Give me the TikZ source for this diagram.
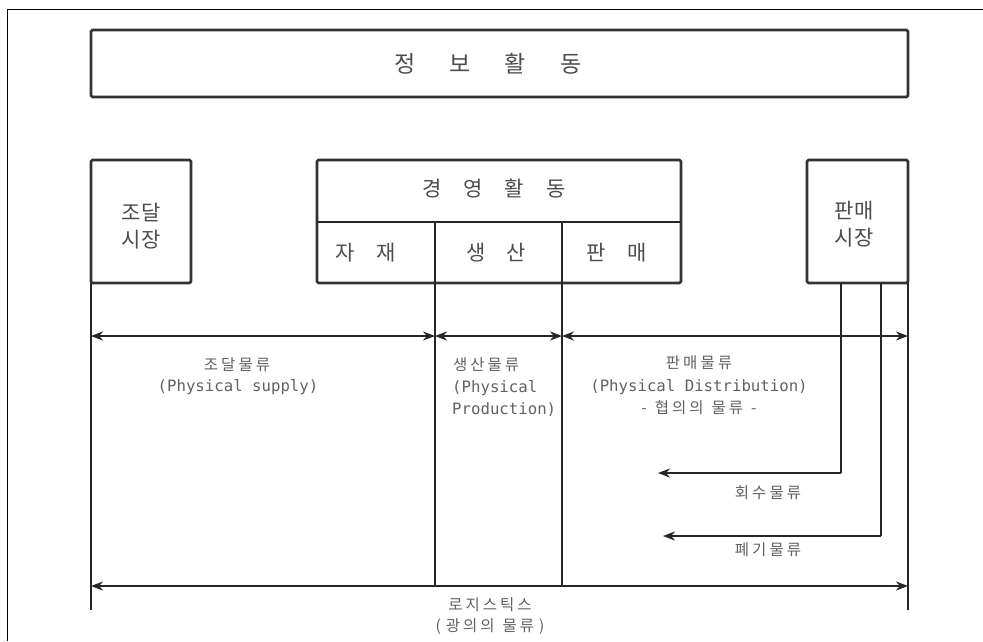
\documentclass[tikz,border=0pt]{standalone}
\usepackage{fontspec}
\newfontfamily\kr{Noto Sans CJK KR}
\newfontfamily\mono{DejaVu Sans Mono}
\usetikzlibrary{arrows.meta}
\newcommand{\kg}{\hspace{3pt}}
\tikzset{
  box/.style={draw=black!80, line width=2.8pt, rounded corners=1.5pt, inner sep=0pt},
  vline/.style={draw=black!85, line width=2.5pt},
  flow/.style={draw=black!85, line width=2.8pt, {Stealth[length=12pt,width=9pt]}-{Stealth[length=12pt,width=9pt]}},
  oneflow/.style={draw=black!85, line width=2.8pt, -{Stealth[length=12pt,width=9pt]}},
  bigk/.style={text=black!70, font=\kr\fontsize{21}{21}\selectfont, inner sep=0pt},
  smallk/.style={text=black!62, font=\kr\fontsize{15.5}{15.5}\selectfont, inner sep=0pt},
  lat/.style={text=black!62, font=\mono\fontsize{15.7}{15.7}\selectfont, inner sep=0pt},
}
\begin{document}
\begin{tikzpicture}[x=1pt,y=-1pt]
\useasboundingbox (0,0) rectangle (983,641);
% page frame
\draw[black, line width=0.9pt] (983,9) -- (7,9) -- (7,641);

% boxes
\node[box, minimum width=817pt, minimum height=67pt] (info) at (499.5,63.5) {};
\node[bigk, font=\kr\fontsize{23}{23}\selectfont] (infot) at (488,64) {정\hspace{34pt}보\hspace{34pt}활\hspace{34pt}동};

\node[box, minimum width=100pt, minimum height=123pt] (jodal) at (141,221.5) {};
\node[bigk, align=center] (jodalt) at (141,226) {조달\\[6pt]시장};

\node[box, minimum width=364pt, minimum height=123pt] (mgmt) at (499,221.5) {};
\node[bigk] (mgmtt) at (494,189) {경\hspace{22pt}영\hspace{22pt}활\hspace{22pt}동};
\node[bigk] (jajae) at (366,253) {자\hspace{22pt}재};
\node[bigk] (saeng) at (496,253) {생\hspace{21pt}산};
\node[bigk] (pan) at (617,253) {판\hspace{22pt}매};

\node[box, minimum width=101pt, minimum height=123pt] (sales) at (857.5,221.5) {};
\node[bigk, align=center] (salest) at (854,224) {판매\\[6pt]시장};

% coordinates
\coordinate (dL) at (317,222);
\coordinate (dR) at (681,222);
\coordinate (v1t) at (435,222);
\coordinate (v2t) at (562,222);
\coordinate (v1b) at (435,586);
\coordinate (v2b) at (562,586);
\coordinate (lt) at (91,283);
\coordinate (lb) at (91,610);
\coordinate (rt) at (908,283);
\coordinate (rb) at (908,610);
\coordinate (r1t) at (841,283);
\coordinate (r1c) at (841,473);
\coordinate (r1e) at (658,473);
\coordinate (r2t) at (881,283);
\coordinate (r2c) at (881,536);
\coordinate (r2e) at (663,536);
\coordinate (a0) at (91,336);
\coordinate (a1) at (435,336);
\coordinate (a2) at (562,336);
\coordinate (a3) at (908,336);
\coordinate (b0) at (91,586);
\coordinate (b3) at (908,586);

% internal divider of the management box
\draw[vline] (dL) -- (dR);

% vertical lines
\draw[vline] (v1t) -- (v1b);
\draw[vline] (v2t) -- (v2b);
\draw[vline] (lt) -- (lb);
\draw[vline] (rt) -- (rb);

% flows
\draw[flow] (a0) -- (a1);
\draw[flow] (a1) -- (a2);
\draw[flow] (a2) -- (a3);
\draw[flow] (b0) -- (b3);
\draw[vline] (r1t) -- (r1c);
\draw[oneflow] (r1c) -- (r1e);
\draw[vline] (r2t) -- (r2c);
\draw[oneflow] (r2c) -- (r2e);

% labels
\node[smallk] (l1) at (237,365) {조\kg 달\kg 물\kg 류};
\node[lat] (l1b) at (238,387) {(Physical supply)};

\node[smallk, anchor=west] (l2) at (453,365) {생\kg 산\kg 물\kg 류};
\node[lat, anchor=west] (l2b) at (452,388) {(Physical};
\node[lat, anchor=west] (l2c) at (452,410) {Production)};

\node[smallk] (l3) at (699,363) {판\kg 매\kg 물\kg 류};
\node[lat] (l3b) at (699,387) {(Physical Distribution)};
\node[smallk] (l3c) at (699,408) {-\hspace{8pt}협\kg 의\kg 의\hspace{8pt}물\kg 류\hspace{8pt}-};

\node[smallk] (l4) at (768,493) {회\kg 수\kg 물\kg 류};
\node[smallk] (l5) at (768,550) {폐\kg 기\kg 물\kg 류};

\node[smallk] (l6) at (490,605) {로\kg 지\kg 스\kg 틱\kg 스};
\node[smallk] (l6b) at (490,627) {(\hspace{5pt}광\kg 의\kg 의\hspace{8pt}물\kg 류\hspace{5pt})};
\end{tikzpicture}
\end{document}
